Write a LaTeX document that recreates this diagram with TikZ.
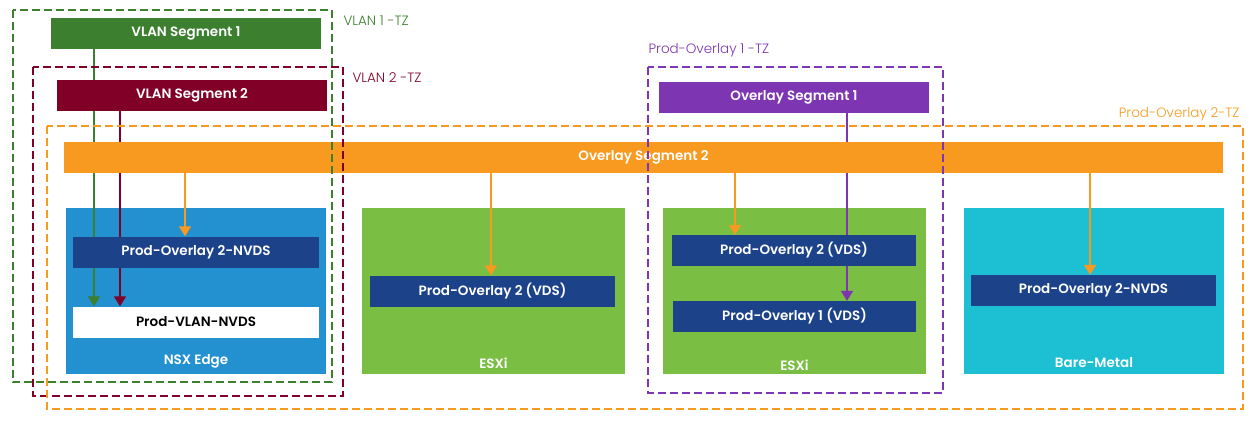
\documentclass[tikz,border=0pt]{standalone}
\usepackage{fontspec}
\setmainfont{Poppins}[BoldFont={Poppins SemiBold}]
\newfontfamily\tzfont{Poppins Light}
\usetikzlibrary{arrows.meta}

\definecolor{vlanone}{HTML}{3C7F2F}
\definecolor{vlantwo}{HTML}{800028}
\definecolor{ovlone}{HTML}{7D35B2}
\definecolor{ovltwo}{HTML}{F89A1F}
\definecolor{edgeblue}{HTML}{2390D0}
\definecolor{esxgreen}{HTML}{7ABE44}
\definecolor{barecyan}{HTML}{1DBFD3}
\definecolor{nvdsblue}{HTML}{1C428A}

\pgfdeclarelayer{hosts}
\pgfdeclarelayer{links}
\pgfsetlayers{hosts,links,main}

\tikzset{
  segbar/.style = {text=white, inner sep=0pt, minimum height=31pt,
                   font=\fontsize{13.5}{16}\selectfont\bfseries},
  switchbox/.style = {segbar, fill=nvdsblue, minimum width=246pt},
  hostbox/.style = {inner sep=0pt, minimum width=260pt, minimum height=166pt},
  hostname/.style = {text=white, font=\fontsize{13.5}{16}\selectfont\bfseries},
  zone/.style = {line width=2pt, dash pattern=on 8pt off 4pt},
  zonename/.style = {font=\tzfont\fontsize{13.5}{16}\selectfont},
  link/.style = {line width=1.5pt, -{Triangle[width=12pt,length=10pt]}}
}

\begin{document}
\begin{tikzpicture}[x=1pt, y=-1pt]
  \useasboundingbox (0,0) rectangle (1256,424);

  % hosts
  \begin{pgfonlayer}{hosts}
    \node[hostbox, fill=edgeblue] (edge) at (196,291) {};
    \node[hostbox, fill=esxgreen, minimum width=263pt] (esxa) at (493.5,291) {};
    \node[hostbox, fill=esxgreen, minimum width=263pt] (esxb) at (794.5,291) {};
    \node[hostbox, fill=barecyan] (bare) at (1094,291) {};
  \end{pgfonlayer}
  \node[hostname] (edgename) at (196,361) {NSX Edge};
  \node[hostname] (esxaname) at (493.5,363) {ESXi};
  \node[hostname] (esxbname) at (794.5,365) {ESXi};
  \node[hostname] (barename) at (1094,363) {Bare-Metal};

  % segments
  \node[segbar, fill=vlanone, minimum width=270pt] (vlana) at (186,33.5) {VLAN Segment 1};
  \node[segbar, fill=vlantwo, minimum width=270pt] (vlanb) at (192,95.5) {VLAN Segment 2};
  \node[segbar, fill=ovlone, minimum width=270pt] (ovla) at (794,97.5) {Overlay Segment 1};
  \node[segbar, fill=ovltwo, minimum width=1159pt] (ovlb) at (643.5,157.5) {Overlay Segment 2};

  % switches
  \node[switchbox] (edgeovl) at (196,252) {Prod-Overlay 2-NVDS};
  \node[switchbox, fill=white, text=black] (edgevlan) at (196,322) {Prod-VLAN-NVDS};
  \node[switchbox, minimum width=245pt] (esxaovl) at (492.5,291) {Prod-Overlay 2 (VDS)};
  \node[switchbox, minimum width=244pt] (esxbovlb) at (794,250.5) {Prod-Overlay 2 (VDS)};
  \node[switchbox, minimum width=243pt] (esxbovla) at (794.5,316.5) {Prod-Overlay 1 (VDS)};
  \node[switchbox, minimum width=245pt] (bareovl) at (1093.5,290.5) {Prod-Overlay 2-NVDS};

  % connectors
  \coordinate (gx) at (94,0);
  \coordinate (mx) at (120,0);
  \coordinate (ox1) at (185,0);
  \coordinate (ox2) at (491,0);
  \coordinate (ox3) at (735,0);
  \coordinate (px) at (847,0);
  \coordinate (ox4) at (1090,0);
  \begin{pgfonlayer}{links}
    \draw[link, vlanone] (vlana.south -| gx) -- (edgevlan.north -| gx);
    \draw[link, vlantwo] (vlanb.south -| mx) -- (edgevlan.north -| mx);
    \draw[link, ovltwo] (ovlb.south -| ox1) -- (edgeovl.north -| ox1);
    \draw[link, ovltwo] (ovlb.south -| ox2) -- (esxaovl.north -| ox2);
    \draw[link, ovltwo] (ovlb.south -| ox3) -- (esxbovlb.north -| ox3);
    \draw[link, ovlone] (ovla.south -| px) -- (esxbovla.north -| px);
    \draw[link, ovltwo] (ovlb.south -| ox4) -- (bareovl.north -| ox4);
  \end{pgfonlayer}

  % transport zones
  \draw[zone, vlanone] (12.7,9.5) rectangle (332,382);
  \draw[zone, vlantwo] (33,67) rectangle (343,396);
  \draw[zone, ovltwo] (47,126) rectangle (1243,409);
  \draw[zone, ovlone] (648,67) rectangle (943,393);
  \node[zonename, text=vlanone, anchor=west] (tzone) at (340,21) {VLAN 1 -TZ};
  \node[zonename, text=vlantwo, anchor=west] (tztwo) at (349,78) {VLAN 2 -TZ};
  \node[zonename, text=ovlone, anchor=west] (tzovlone) at (645,50) {Prod-Overlay 1 -TZ};
  \node[zonename, text=ovltwo, anchor=east] (tzovltwo) at (1243,114) {Prod-Overlay 2-TZ};
\end{tikzpicture}
\end{document}
